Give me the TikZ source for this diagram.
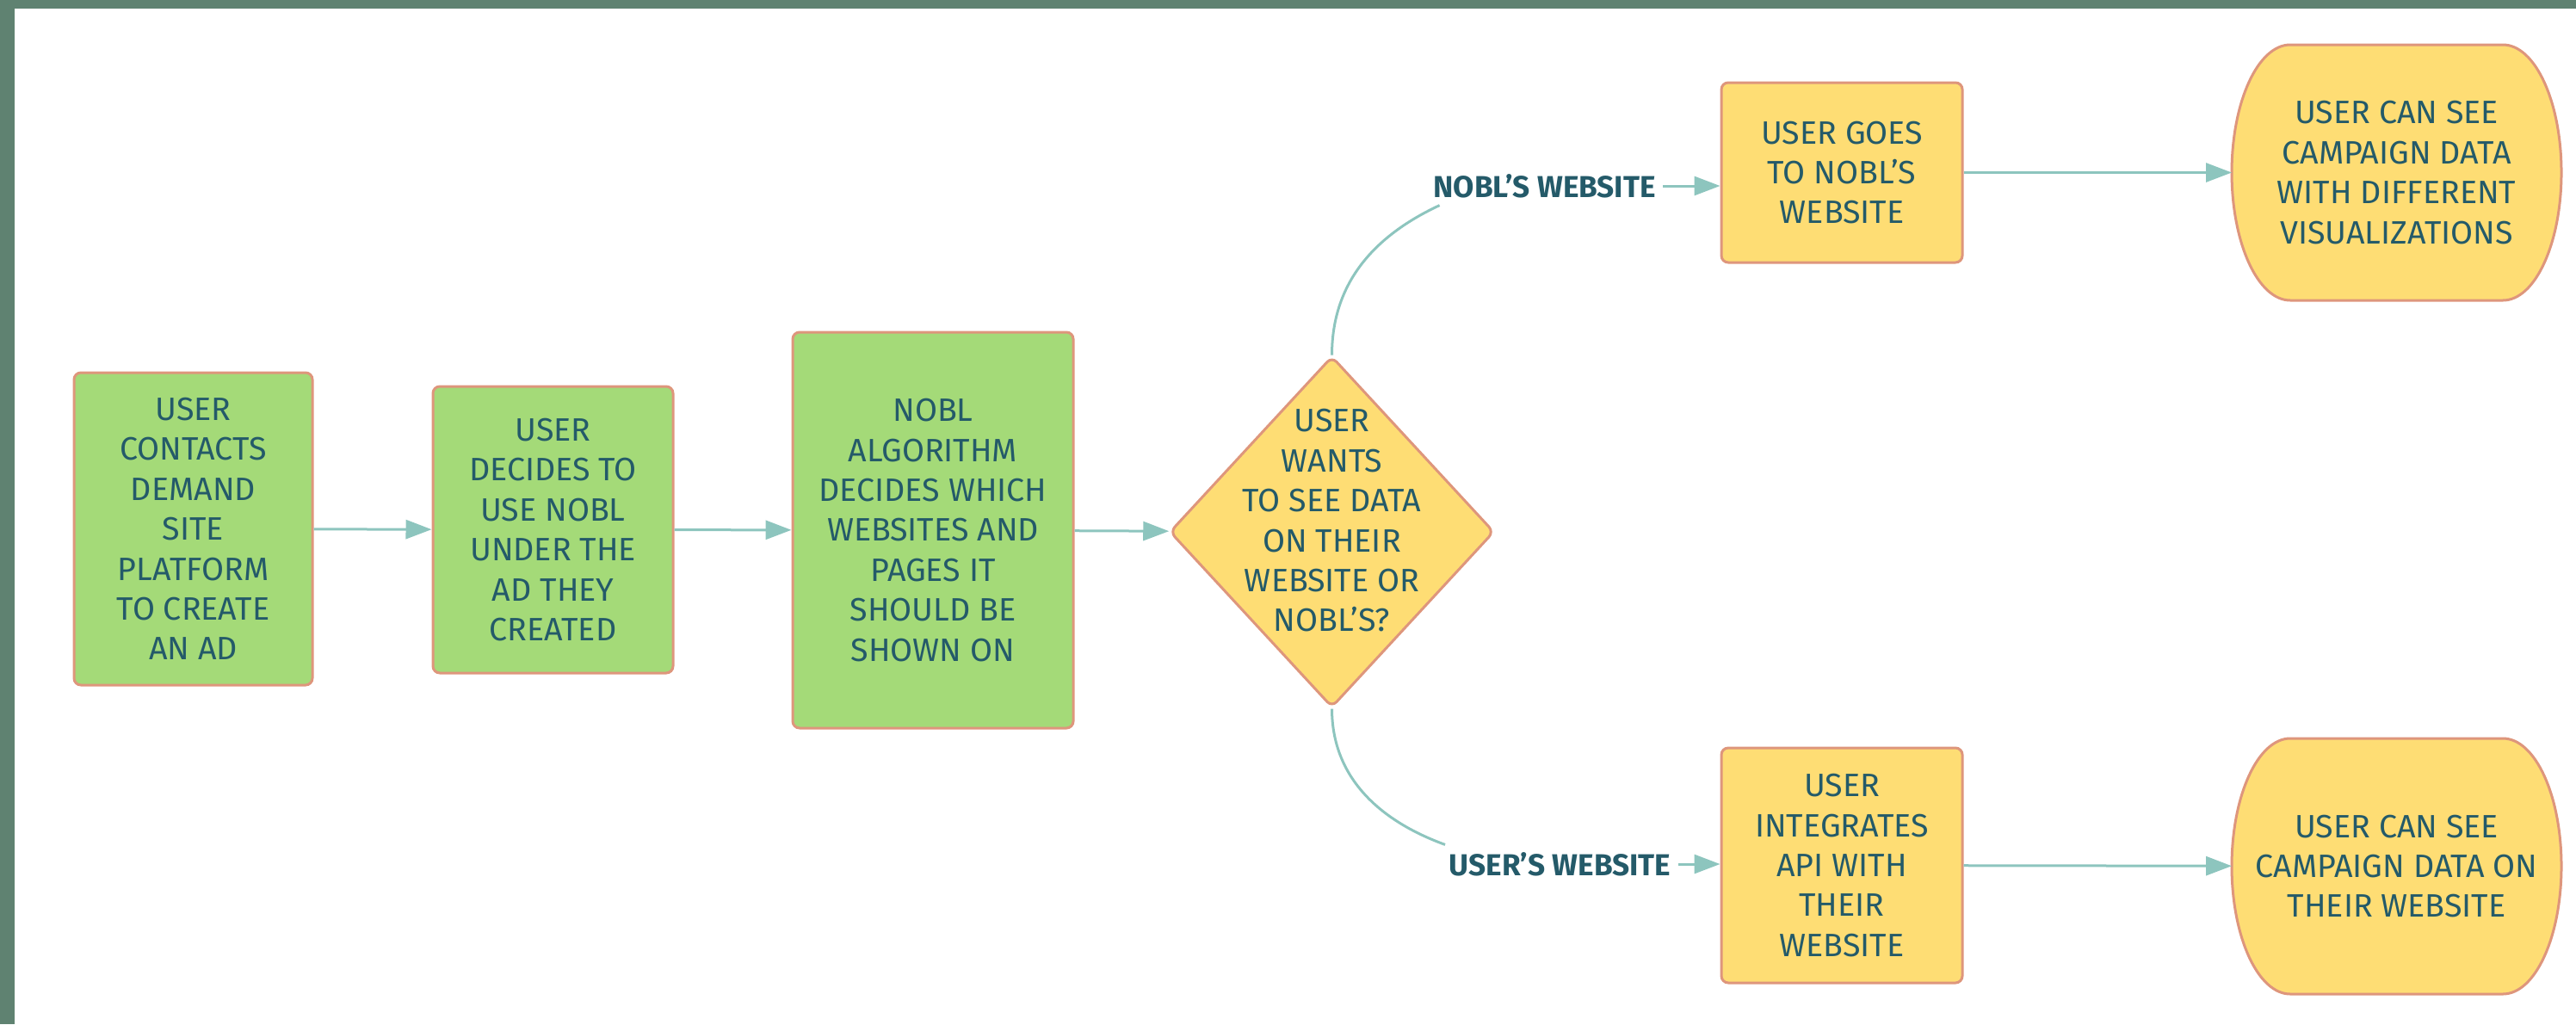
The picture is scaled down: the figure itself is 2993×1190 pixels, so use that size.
\documentclass[tikz,border=0pt]{standalone}
\usepackage{fontspec}
\setmainfont{Fira Sans}
\usetikzlibrary{shapes.geometric,arrows.meta,backgrounds,positioning}

\definecolor{frame}{HTML}{5F8271}
\definecolor{stepgreen}{HTML}{A4DA78}
\definecolor{stepyellow}{HTML}{FEDD74}
\definecolor{nodeedge}{HTML}{DE967C}
\definecolor{nodetext}{HTML}{245A69}
\definecolor{linkcol}{HTML}{8DC5BE}

\begin{document}
\begin{tikzpicture}[x=0.25pt,y=0.25pt,align=center,
  font=\fontsize{9.4}{11.6}\selectfont,
  box/.style={draw=nodeedge, line width=0.75pt, rounded corners=2pt, text=nodetext, inner sep=0pt},
  greenbox/.style={box, fill=stepgreen},
  yellowbox/.style={box, fill=stepyellow},
  decision/.style={yellowbox, diamond, aspect=0.92, inner sep=-12pt,
    minimum width=94.25pt, minimum height=102pt},
  outcome/.style={text=nodetext, outer sep=0pt, minimum width=95.75pt, minimum height=74.25pt},
  outline/.style={draw=nodeedge, fill=stepyellow, line width=0.75pt},
  wire/.style={draw=linkcol, line width=0.75pt},
  link/.style={wire, -{Triangle[length=7.5pt,width=5.5pt]}},
  edgelabel/.style={text=nodetext, font=\fontsize{8.8}{10}\selectfont\bfseries, inner sep=2pt}]

  \useasboundingbox (0,0) rectangle (2993,-1190);
  \fill[frame] (0,0) rectangle (2993,-10);
  \fill[frame] (0,0) rectangle (17,-1190);

  %% main row
  \node[greenbox, minimum width=69.25pt, minimum height=90.75pt] (contact) at (224.5,-614.5)
    {USER\\CONTACTS\\DEMAND\\SITE\\PLATFORM\\TO CREATE\\AN AD};
  \node[greenbox, minimum width=69.75pt, minimum height=83.25pt] (decide) at (642.5,-615.5)
    {USER\\DECIDES TO\\USE NOBL\\UNDER THE\\AD THEY\\CREATED};
  \node[greenbox, minimum width=81.5pt, minimum height=115pt] (algo) at (1084,-616)
    {NOBL\\ALGORITHM\\DECIDES WHICH\\WEBSITES AND\\PAGES IT\\SHOULD BE\\SHOWN ON};
  \node[decision] (wants) at (1547.5,-618)
    {USER\\WANTS\\TO SEE DATA\\ON THEIR\\WEBSITE OR\\NOBL'S?\\[-5pt]{}};

  %% the two branches
  \node[yellowbox, minimum width=70pt, minimum height=52.25pt] (goes) at (2140,-200.5)
    {USER GOES\\TO NOBL'S\\WEBSITE};
  \node[yellowbox, minimum width=70pt, minimum height=68.25pt] (integ) at (2140,-1005.5)
    {USER\\INTEGRATES\\API WITH\\THEIR\\WEBSITE};
  \node[outcome] (seeviz) at (2784.5,-200.5)
    {USER CAN SEE\\CAMPAIGN DATA\\WITH DIFFERENT\\VISUALIZATIONS};
  \node[outcome] (seesite) at (2784.5,-1006.5)
    {USER CAN SEE\\CAMPAIGN DATA ON\\THEIR WEBSITE};

  % rounded ends of the two last steps
  \begin{scope}[on background layer]
    \foreach \n in {seeviz,seesite}
      \path[outline] ([xshift=-17pt]\n.north east) -- ([xshift=17pt]\n.north west)
        arc[start angle=90, end angle=270, x radius=17pt, y radius=37.125pt]
        -- ([xshift=-17pt]\n.south east)
        arc[start angle=-90, end angle=90, x radius=17pt, y radius=37.125pt] -- cycle;
  \end{scope}

  \node[edgelabel] (lblnobl) at (1794.5,-216) {NOBL'S WEBSITE};
  \node[edgelabel] (lbluser) at (1812.5,-1004) {USER'S WEBSITE};

  \draw[link] (contact) -- (decide);
  \draw[link] (decide) -- (algo);
  \draw[link] (algo) -- (wants);
  \draw[wire] (wants.north) to[out=90, in=205] ([xshift=4pt]lblnobl.south west);
  \draw[link] (lblnobl.east) -- (lblnobl.east -| goes.west);
  \draw[wire] (wants.south) to[out=-90, in=160] ([xshift=1pt]lbluser.north west);
  \draw[link] (lbluser.east) -- (lbluser.east -| integ.west);
  \draw[link] (goes) -- (seeviz);
  \draw[link] (integ) -- (seesite);

\end{tikzpicture}
\end{document}
